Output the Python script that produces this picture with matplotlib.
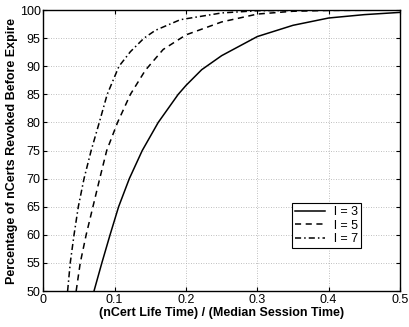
import numpy as np
import matplotlib
matplotlib.use('Agg')
import matplotlib.pyplot as plt

plt.rcParams['font.family'] = ['Liberation Sans', 'DejaVu Sans']

# l = 3
x_l3 = [0.071, 0.082, 0.0935, 0.1055, 0.1205, 0.1386, 0.161, 0.189, 0.2, 0.222, 0.25, 0.3, 0.35, 0.4, 0.45, 0.5]
y_l3 = [50, 55, 60, 65, 70, 75, 80, 85, 86.6, 89.4, 91.9, 95.3, 97.3, 98.6, 99.2, 99.6]
# l = 5
x_l5 = [0.046, 0.0517, 0.060, 0.0695, 0.079, 0.0888, 0.104, 0.122, 0.143, 0.168, 0.2, 0.25, 0.3, 0.35, 0.4, 0.5]
y_l5 = [50, 55, 60, 65, 70, 75, 80, 85, 89.3, 93.0, 95.6, 97.9, 99.3, 99.8, 99.95, 100]
# l = 7
x_l7 = [0.034, 0.0377, 0.043, 0.049, 0.057, 0.067, 0.0784, 0.0895, 0.106, 0.122, 0.141, 0.157, 0.192, 0.25, 0.3, 0.4, 0.5]
y_l7 = [50, 55, 60, 65, 70, 75, 80, 85, 90, 92.6, 95, 96.4, 98.3, 99.5, 99.9, 100, 100]

xticks = [0, 0.1, 0.2, 0.3, 0.4, 0.5]
xtick_labels = ['0', '0.1', '0.2', '0.3', '0.4', '0.5']
yticks = list(range(50, 101, 5))

fig = plt.figure(figsize=(4.09, 3.27), dpi=100)
ax = fig.add_axes([0.106, 0.110, 0.872, 0.859])

ax.plot(x_l3, y_l3, color='black', lw=1.1, ls='-', label='l = 3')
ax.plot(x_l5, y_l5, color='black', lw=1.1, ls=(0, (4, 3)), label='l = 5')
ax.plot(x_l7, y_l7, color='black', lw=1.1, ls=(0, (4, 2, 1, 2)), label='l = 7')

ax.set_xlim(0, 0.5)
ax.set_ylim(50, 100)
ax.set_xticks(xticks)
ax.set_xticklabels(xtick_labels)
ax.set_yticks(yticks)
ax.tick_params(direction='in', top=True, right=True, labelsize=9, length=3, pad=2)
ax.grid(True, ls=(0, (1, 2)), color='#aaaaaa', lw=0.6)
for s in ax.spines.values():
    s.set_linewidth(1.0)

ax.set_xlabel('(nCert Life Time) / (Median Session Time)', fontsize=9, fontweight='bold', labelpad=0.5)
ax.set_ylabel('Percentage of nCerts Revoked Before Expire', fontsize=9, fontweight='bold', labelpad=1)

leg = ax.legend(loc='lower right', bbox_to_anchor=(0.89, 0.153), fontsize=9, frameon=True, fancybox=False,
                edgecolor='black', framealpha=1, handlelength=2.4, handletextpad=0.7,
                borderpad=0.25, labelspacing=0.1, borderaxespad=0)
leg.get_frame().set_linewidth(0.8)

fig.savefig('out.png', dpi=100)
